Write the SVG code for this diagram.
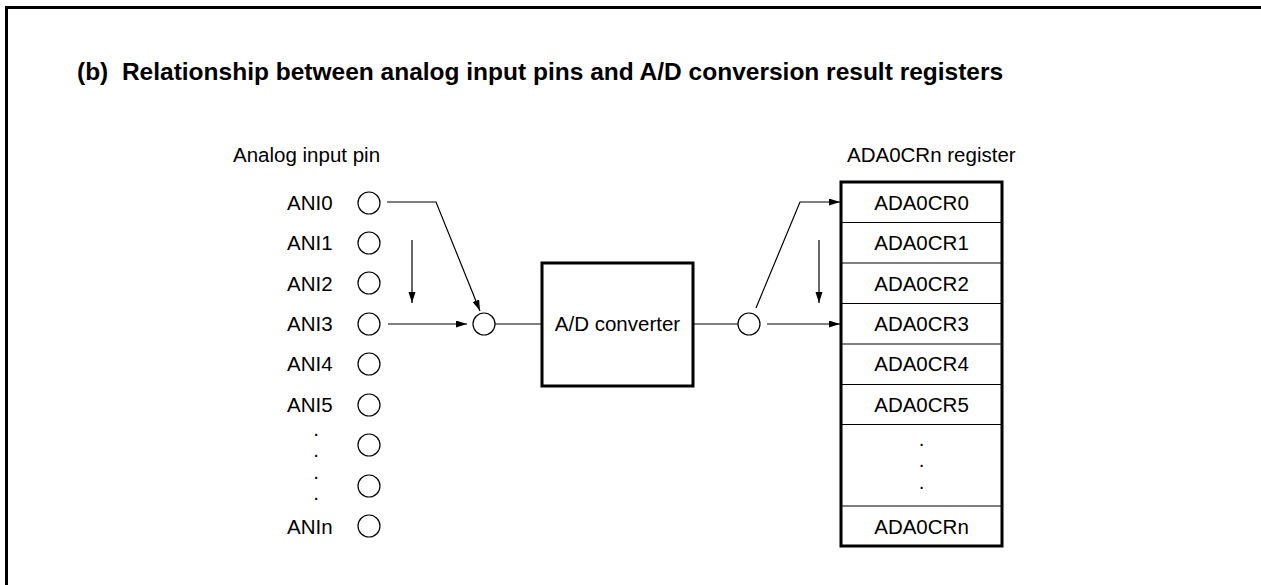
<svg xmlns="http://www.w3.org/2000/svg" width="1261" height="585" viewBox="0 0 1261 585">
<style>
text{font-family:"Liberation Sans",Arial,sans-serif;font-size:20.5px;fill:#000}
.t{font-weight:bold;font-size:24.5px;white-space:pre}
.c{text-anchor:middle}
.pin{fill:#fff;stroke:#000;stroke-width:1.2}
.ln{fill:none;stroke:#000;stroke-width:1.2}
.thin{stroke:#000;stroke-width:1.2}
.box{fill:#fff;stroke:#000;stroke-width:3}
</style>
<defs>
<marker id="ah" markerUnits="userSpaceOnUse" markerWidth="12" markerHeight="8" refX="11" refY="3.5" orient="auto">
<path d="M0,0 L11,3.5 L0,7 z" fill="#000"/>
</marker>
</defs>
<rect width="1261" height="585" fill="#fff"/>
<path d="M6.5,585 V7.5 H1261" fill="none" stroke="#000" stroke-width="3"/>
<text class="t" x="77" y="80" xml:space="preserve">(b)  Relationship between analog input pins and A/D conversion result registers</text>
<text x="233" y="162">Analog input pin</text>
<text x="847" y="162">ADA0CRn register</text>
<g id="pins">
<text x="287" y="210">ANI0</text><circle class="pin" cx="369" cy="203" r="11"/>
<text x="287" y="250">ANI1</text><circle class="pin" cx="369" cy="243" r="11"/>
<text x="287" y="291">ANI2</text><circle class="pin" cx="369" cy="283" r="11"/>
<text x="287" y="331">ANI3</text><circle class="pin" cx="369" cy="324" r="11"/>
<text x="287" y="371">ANI4</text><circle class="pin" cx="369" cy="364" r="11"/>
<text x="287" y="412">ANI5</text><circle class="pin" cx="369" cy="405" r="11"/>
<text class="c" x="316" y="436">.</text>
<text class="c" x="316" y="457">.</text>
<circle class="pin" cx="369" cy="445" r="11"/>
<text class="c" x="316" y="479">.</text>
<text class="c" x="316" y="500">.</text>
<circle class="pin" cx="369" cy="486" r="11"/>
<text x="287" y="534">ANIn</text><circle class="pin" cx="369" cy="526" r="11"/>
</g>
<g id="mux-in"><circle class="pin" cx="484" cy="324" r="11"/></g>
<g id="adc">
<rect class="box" x="542" y="263" width="151" height="123"/>
<text class="c" x="617.5" y="331">A/D converter</text>
</g>
<g id="mux-out"><circle class="pin" cx="749" cy="324" r="11"/></g>
<g id="registers">
<rect class="box" x="841" y="182" width="161" height="364"/>
<line class="thin" x1="841" y1="222.5" x2="1002" y2="222.5"/>
<line class="thin" x1="841" y1="263" x2="1002" y2="263"/>
<line class="thin" x1="841" y1="303.5" x2="1002" y2="303.5"/>
<line class="thin" x1="841" y1="344" x2="1002" y2="344"/>
<line class="thin" x1="841" y1="384.5" x2="1002" y2="384.5"/>
<line class="thin" x1="841" y1="424.5" x2="1002" y2="424.5"/>
<line class="thin" x1="841" y1="506" x2="1002" y2="506"/>
<text class="c" x="921.5" y="210">ADA0CR0</text>
<text class="c" x="921.5" y="250">ADA0CR1</text>
<text class="c" x="921.5" y="291">ADA0CR2</text>
<text class="c" x="921.5" y="331">ADA0CR3</text>
<text class="c" x="921.5" y="371">ADA0CR4</text>
<text class="c" x="921.5" y="412">ADA0CR5</text>
<text class="c" x="921.5" y="446">.</text>
<text class="c" x="921.5" y="467">.</text>
<text class="c" x="921.5" y="489">.</text>
<text class="c" x="921.5" y="534">ADA0CRn</text>
</g>
<g id="connectors">
<polyline class="ln" points="387,202 436,202 480,311" marker-end="url(#ah)"/>
<line class="ln" x1="388" y1="324" x2="467" y2="324" marker-end="url(#ah)"/>
<line class="ln" x1="412" y1="240" x2="412" y2="303" marker-end="url(#ah)"/>
<line class="ln" x1="495" y1="324" x2="542" y2="324"/>
<line class="ln" x1="693" y1="324" x2="738" y2="324"/>
<polyline class="ln" points="756,308 800,202 840,202" marker-end="url(#ah)"/>
<line class="ln" x1="767" y1="324" x2="840" y2="324" marker-end="url(#ah)"/>
<line class="ln" x1="819" y1="240" x2="819" y2="303" marker-end="url(#ah)"/>
</g>
</svg>
